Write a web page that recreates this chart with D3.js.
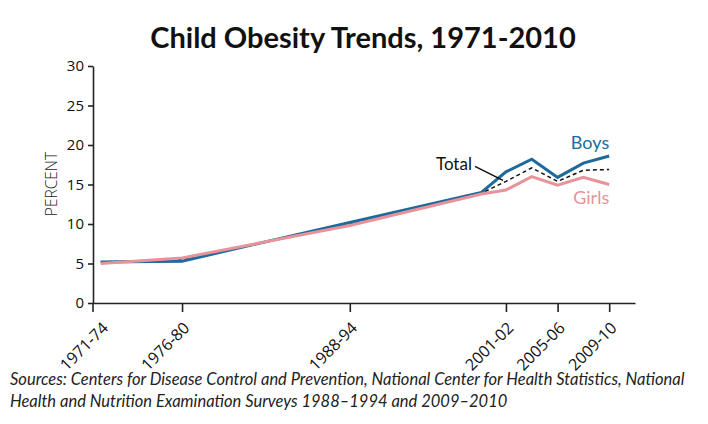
<!DOCTYPE html>
<html>
<head>
<meta charset="utf-8">
<script src="https://cdn.jsdelivr.net/npm/d3@7"></script>
<style>
  body { margin: 0; background: #fff; }
  svg { display: block; }
  .axis text { font-family: "Open Sans"; fill: #111; }
</style>
</head>
<body>
<div id="chart"></div>
<script>
// survey periods (x position, in years)
var periods = ["1971-74", "1976-80", "1988-94", "1999-2000", "2001-02", "2003-04", "2005-06", "2007-08", "2009-10"];
var periodYear = [1969.6, 1975.9, 1988.9, 1999.1, 2001, 2003, 2005, 2007, 2009];

var boys = [5.2, 5.3, 10.2, 14.0, 16.6, 18.2, 15.9, 17.7, 18.6];
var girls = [5.0, 5.7, 9.8, 13.8, 14.3, 16.0, 14.9, 15.9, 15.0];
var total = [5.2, 5.5, 10.0, 13.9, 15.4, 17.1, 15.4, 16.8, 16.9];

// labelled ticks on the x axis
var tickLabels = ["1971-74", "1976-80", "1988-94", "2001-02", "2005-06", "2009-10"];
var tickYear = [1969.6, 1975.9, 1988.9, 2001, 2005, 2009];
var yTicks = [0, 5, 10, 15, 20, 25, 30];

var svgWidth = 708;
var svgHeight = 424;

var margin = {
    top: 66,
    right: 73,
    left: 93,
    bottom: 121
};

var width = svgWidth - margin.left - margin.right;
var height = svgHeight - margin.top - margin.bottom;

var blue = "#1d6a9b";
var pink = "#e8939a";

var svg = d3.select("#chart")
    .append("svg")
    .attr("width", svgWidth)
    .attr("height", svgHeight);

// title
svg.append("text")
    .attr("x", svgWidth / 2 + 9)
    .attr("y", 48)
    .attr("text-anchor", "middle")
    .style("font-family", "Lato")
    .style("font-weight", "700")
    .style("font-size", "29px")
    .style("fill", "#111")
    .text("Child Obesity Trends, 1971-2010");

var chartGroup = svg.append("g")
    .attr("transform", `translate(${margin.left}, ${margin.top})`);

// scales
var xScale = d3.scaleLinear()
    .domain([1969, 2011])
    .range([0, width]);

var yScale = d3.scaleLinear()
    .domain([0, 30])
    .range([height, 0]);

// axes
var xAxis = d3.axisBottom(xScale)
    .tickValues(tickYear)
    .tickSize(9)
    .tickSizeOuter(0)
    .tickFormat((d, i) => tickLabels[i]);

var yAxis = d3.axisLeft(yScale)
    .tickValues(yTicks)
    .tickSize(5)
    .tickSizeOuter(0);

var xg = chartGroup.append("g")
    .attr("class", "axis")
    .attr("transform", `translate(0, ${height})`)
    .call(xAxis)
    .attr("font-size", 16)
    .attr("font-family", "Open Sans");

xg.selectAll(".tick text")
    .attr("text-anchor", "end")
    .attr("y", 0)
    .attr("dy", "0.35em")
    .attr("transform", "translate(4, 22) rotate(-45)");

// first period has no tick mark of its own, the y axis runs down past the x axis instead
xg.select(".tick line").remove();

var yg = chartGroup.append("g")
    .attr("class", "axis")
    .call(yAxis)
    .attr("font-size", 15)
    .attr("font-family", "Open Sans");

yg.selectAll(".tick text")
    .attr("x", -9);

yg.append("line")
    .attr("x1", 0)
    .attr("x2", 0)
    .attr("y1", height)
    .attr("y2", height + 9);

chartGroup.selectAll(".domain, .tick line, .axis > line")
    .attr("stroke", "#222")
    .attr("stroke-width", 1.6);

// y axis label
chartGroup.append("text")
    .attr("transform", "rotate(-90)")
    .attr("x", 0 - 118)
    .attr("y", 0 - 36)
    .attr("text-anchor", "middle")
    .style("font-family", "Open Sans")
    .style("font-weight", "300")
    .style("font-size", "15.5px")
    .style("fill", "#222")
    .text("PERCENT");

// lines
function makeLine(values) {
    return d3.line()
        .x((d, i) => xScale(periodYear[i]))
        .y(d => yScale(d))(values);
}

chartGroup.append("path")
    .attr("d", makeLine(total))
    .attr("fill", "none")
    .attr("stroke", "#111")
    .attr("stroke-width", 1.5)
    .attr("stroke-dasharray", "4,3");

chartGroup.append("path")
    .attr("d", makeLine(boys))
    .attr("fill", "none")
    .attr("stroke", blue)
    .attr("stroke-width", 3);

chartGroup.append("path")
    .attr("d", makeLine(girls))
    .attr("fill", "none")
    .attr("stroke", pink)
    .attr("stroke-width", 3);

// series labels
var last = periods.length - 1;

chartGroup.append("text")
    .attr("x", xScale(periodYear[last]))
    .attr("y", yScale(boys[last]) - 7)
    .attr("text-anchor", "end")
    .style("font-family", "Lato")
    .style("font-size", "18px")
    .style("fill", blue)
    .text("Boys");

chartGroup.append("text")
    .attr("x", xScale(periodYear[last]))
    .attr("y", yScale(girls[last]) + 19)
    .attr("text-anchor", "end")
    .style("font-family", "Lato")
    .style("font-size", "18px")
    .style("fill", pink)
    .text("Girls");

// total label with leader line
var tx = xScale(periodYear[4]);
var ty = yScale(total[4]);

chartGroup.append("text")
    .attr("x", tx - 34)
    .attr("y", ty - 11)
    .attr("text-anchor", "end")
    .style("font-family", "Lato")
    .style("font-size", "17px")
    .style("fill", "#111")
    .text("Total");

chartGroup.append("line")
    .attr("x1", tx - 31)
    .attr("y1", ty - 15)
    .attr("x2", tx - 3)
    .attr("y2", ty - 1)
    .attr("stroke", "#111")
    .attr("stroke-width", 1.5);

// source note
var source = svg.append("text")
    .style("font-family", "Lato")
    .style("font-style", "italic")
    .style("font-size", "16.5px")
    .style("fill", "#222");

source.append("tspan")
    .attr("x", 10)
    .attr("y", 385)
    .text("Sources: Centers for Disease Control and Prevention, National Center for Health Statistics, National");

source.append("tspan")
    .attr("x", 10)
    .attr("y", 407)
    .text("Health and Nutrition Examination Surveys 1988\u20131994 and 2009\u20132010");
</script>
</body>
</html>
